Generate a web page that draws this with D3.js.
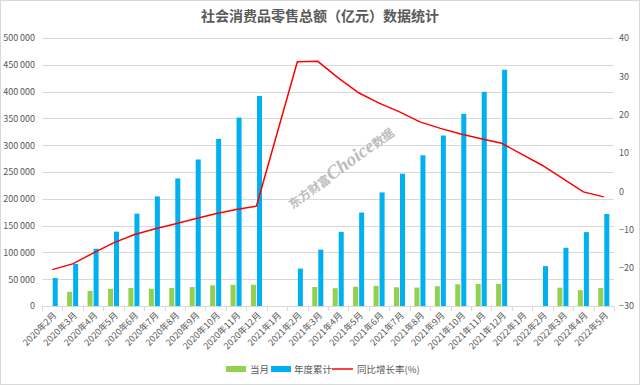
<!DOCTYPE html>
<html>
<head>
<meta charset="utf-8">
<script src="https://cdn.jsdelivr.net/npm/d3@7"></script>
<style>
  body { margin: 0; background: #fff; }
  text { font-family: "Noto Sans CJK SC", "DejaVu Sans", sans-serif; }
</style>
</head>
<body>
<div id="chart"></div>
<script>
// months on the x axis
var months = ["2020年2月", "2020年3月", "2020年4月", "2020年5月", "2020年6月", "2020年7月",
    "2020年8月", "2020年9月", "2020年10月", "2020年11月", "2020年12月",
    "2021年1月", "2021年2月", "2021年3月", "2021年4月", "2021年5月", "2021年6月",
    "2021年7月", "2021年8月", "2021年9月", "2021年10月", "2021年11月", "2021年12月",
    "2022年1月", "2022年2月", "2022年3月", "2022年4月", "2022年5月"];

// 当月 (monthly), null = no bar
var monthly = [null, 26450, 28178, 31973, 33526, 32203, 33571, 35295, 38576, 39514, 39620,
    null, null, 35484, 33153, 35945, 37586, 34925, 34395, 36833, 40454, 41043, 41269,
    null, null, 34233, 29483, 33547];

// 年度累计 (year to date)
var cumulative = [52130, 78580, 106758, 138730, 172256, 204459, 238030, 273324, 311900, 351414, 391981,
    null, 69737, 105221, 138378, 174323, 211904, 246829, 281224, 318057, 358511, 399554, 440823,
    null, 74426, 108659, 137855, 171689];

// 同比增长率(%)
var growth = [-20.5, -19.0, -16.2, -13.5, -11.4, -9.9, -8.6, -7.2, -5.9, -4.8, -3.9,
    null, 33.8, 33.9, 29.6, 25.7, 23.0, 20.7, 18.1, 16.4, 14.9, 13.7, 12.5,
    null, 6.7, 3.3, -0.2, -1.5];

var leftTicks = [0, 50000, 100000, 150000, 200000, 250000, 300000, 350000, 400000, 450000, 500000];
var rightTicks = [-30, -20, -10, 0, 10, 20, 30, 40];

var W = 640, H = 385;
var margin = {top: 38, right: 26, bottom: 79, left: 42},
    width = W - margin.left - margin.right,
    height = H - margin.top - margin.bottom;

var svg = d3.select("#chart").append("svg")
    .attr("width", W)
    .attr("height", H);

svg.append("rect")
    .attr("x", 0.5).attr("y", 0.5)
    .attr("width", W - 1).attr("height", H - 1)
    .attr("fill", "#fff")
    .attr("stroke", "#d9d9d9");

svg.append("text")
    .attr("x", 320)
    .attr("y", 21)
    .attr("text-anchor", "middle")
    .attr("font-size", "14px")
    .attr("font-weight", "bold")
    .attr("fill", "#595959")
    .text("社会消费品零售总额（亿元）数据统计");

var g = svg.append("g")
    .attr("transform", "translate(" + margin.left + "," + margin.top + ")");

var x = d3.scaleBand()
    .domain(months)
    .range([0, width]);

var xs = d3.scaleBand()
    .domain(["当月", "年度累计"])
    .range([0, x.bandwidth()])
    .paddingInner(1 / 6)
    .paddingOuter(0.78);

var y = d3.scaleLinear()
    .domain([0, 500000])
    .range([height, 0]);

var y2 = d3.scaleLinear()
    .domain([-30, 40])
    .range([height, 0]);

// grid lines
g.append("g")
    .selectAll("line")
    .data(leftTicks.slice(1))
    .enter().append("line")
    .attr("x1", 0).attr("x2", width)
    .attr("y1", function(d) { return Math.round(y(d)) + 0.5; })
    .attr("y2", function(d) { return Math.round(y(d)) + 0.5; })
    .attr("stroke", "#d9d9d9")
    .attr("stroke-width", 1);

// left axis
var yAxis = g.append("g")
    .call(d3.axisLeft(y).tickValues(leftTicks).tickSize(0).tickPadding(7)
        .tickFormat(function(d) { return d3.format("d")(d).replace(/(\d)(?=(\d{3})+$)/g, "$1\u2009"); }));
yAxis.select(".domain").remove();
yAxis.selectAll("text").attr("font-size", "9px").attr("fill", "#595959");

// right axis
var y2Axis = g.append("g")
    .attr("transform", "translate(" + width + ",0)")
    .call(d3.axisRight(y2).tickValues(rightTicks).tickSize(0).tickPadding(5));
y2Axis.select(".domain").remove();
y2Axis.selectAll("text").attr("font-size", "9px").attr("fill", "#595959");

// watermark (under the marks)
var wm = svg.append("text")
    .attr("transform", "translate(344,172) rotate(-36)")
    .attr("text-anchor", "middle")
    .attr("fill", "#bdbdbd")
    .attr("font-weight", "bold");
wm.append("tspan").attr("font-size", "12px").attr("font-family", "'Noto Sans CJK SC', serif").text("东方财富");
wm.append("tspan").attr("font-size", "19px").attr("font-style", "italic")
    .attr("font-family", "'Liberation Serif', 'DejaVu Serif', serif").text("Choice");
wm.append("tspan").attr("font-size", "12px").attr("font-family", "'Noto Sans CJK SC', serif").text("数据");

// bars
g.append("g")
    .selectAll("rect")
    .data(months.filter(function(m, i) { return monthly[i] != null; }))
    .enter().append("rect")
    .attr("x", function(d) { return x(d) + xs("当月"); })
    .attr("width", xs.bandwidth())
    .attr("y", function(d) { return y(monthly[months.indexOf(d)]); })
    .attr("height", function(d) { return height - y(monthly[months.indexOf(d)]); })
    .attr("fill", "#92d050");

g.append("g")
    .selectAll("rect")
    .data(months.filter(function(m, i) { return cumulative[i] != null; }))
    .enter().append("rect")
    .attr("x", function(d) { return x(d) + xs("年度累计"); })
    .attr("width", xs.bandwidth())
    .attr("y", function(d) { return y(cumulative[months.indexOf(d)]); })
    .attr("height", function(d) { return height - y(cumulative[months.indexOf(d)]); })
    .attr("fill", "#00b0f0");

// bottom axis line with ticks at band edges
var xa = g.append("g").attr("transform", "translate(0," + height + ")");
xa.append("line")
    .attr("x1", 0).attr("x2", width)
    .attr("y1", 0.5).attr("y2", 0.5)
    .attr("stroke", "#d9d9d9");
var edges = months.map(function(m) { return x(m); }).concat([width]);
xa.selectAll(".tk")
    .data(edges)
    .enter().append("line")
    .attr("class", "tk")
    .attr("x1", function(d) { return Math.round(d) + 0.5; })
    .attr("x2", function(d) { return Math.round(d) + 0.5; })
    .attr("y1", 0).attr("y2", 5)
    .attr("stroke", "#d9d9d9");
xa.selectAll(".lb")
    .data(months)
    .enter().append("text")
    .attr("class", "lb")
    .attr("transform", function(d) {
        return "translate(" + (x(d) + x.bandwidth() / 2 + 5) + ",10) rotate(-45)";
    })
    .attr("text-anchor", "end")
    .attr("font-size", "9px")
    .attr("fill", "#595959")
    .text(function(d) { return d; });

// growth line (gaps are bridged)
var pts = months.filter(function(m, i) { return growth[i] != null; });
var line = d3.line()
    .x(function(d) { return x(d) + x.bandwidth() / 2; })
    .y(function(d) { return y2(growth[months.indexOf(d)]); });
g.append("path")
    .datum(pts)
    .attr("d", line)
    .attr("fill", "none")
    .attr("stroke", "#ff0000")
    .attr("stroke-width", 1.5);

// legend
var lg = svg.append("g").attr("transform", "translate(226,369)");
lg.append("rect").attr("x", 0).attr("y", -3).attr("width", 20).attr("height", 6).attr("fill", "#92d050");
lg.append("text").attr("x", 24).attr("y", 3.5).attr("font-size", "9.5px").attr("fill", "#595959").text("当月");
lg.append("rect").attr("x", 45).attr("y", -3).attr("width", 20).attr("height", 6).attr("fill", "#00b0f0");
lg.append("text").attr("x", 68).attr("y", 3.5).attr("font-size", "9.5px").attr("fill", "#595959").text("年度累计");
lg.append("line").attr("x1", 106).attr("x2", 127).attr("y1", 0).attr("y2", 0).attr("stroke", "#ff0000").attr("stroke-width", 1.5);
lg.append("text").attr("x", 131).attr("y", 3.5).attr("font-size", "9.5px").attr("fill", "#595959").text("同比增长率(%)");
</script>
</body>
</html>
